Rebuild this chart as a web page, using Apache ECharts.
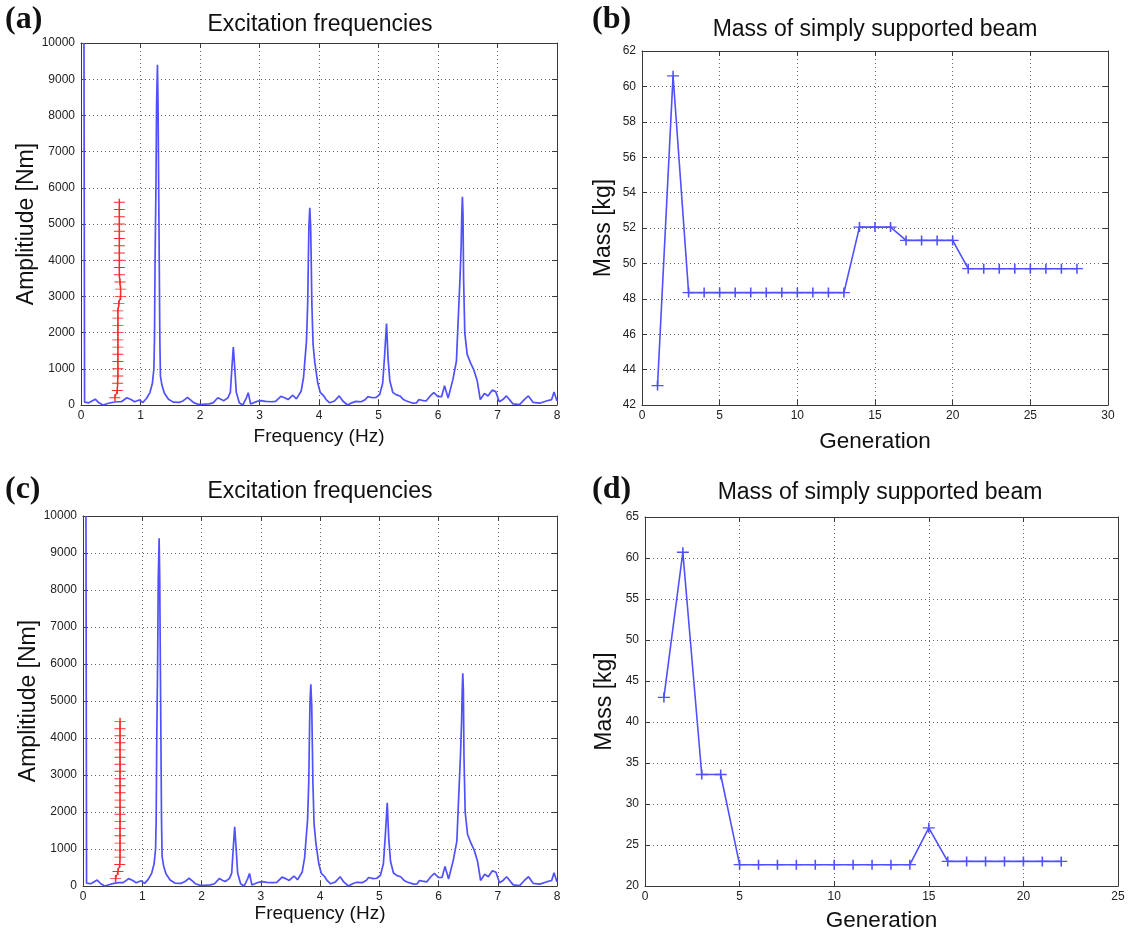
<!DOCTYPE html>
<html><head><meta charset="utf-8">
<script src="https://cdn.jsdelivr.net/npm/echarts@6/dist/echarts.min.js"></script>
<style>html,body{margin:0;padding:0;background:#fff}#c{width:1131px;height:935px}</style>
</head><body><div id="c"></div>
<script>
// ---- Data ----
// Excitation spectrum: [frequency (Hz), amplitude (Nm)]
const spectrum = [
  [0.05,10000],[0.06,80],[0.13,60],[0.24,160],[0.30,60],[0.37,0],[0.45,40],[0.52,70],[0.60,90],
  [0.68,90],[0.77,200],[0.84,150],[0.90,90],[0.98,140],[1.04,70],[1.10,180],[1.16,350],[1.20,600],
  [1.225,1000],[1.235,1800],[1.245,4000],[1.26,6100],[1.27,8300],[1.285,9400],[1.295,8300],
  [1.305,6100],[1.315,4000],[1.325,1800],[1.335,800],[1.36,550],[1.40,330],[1.47,160],[1.55,80],
  [1.65,70],[1.72,120],[1.79,210],[1.85,130],[1.90,60],[1.97,20],[2.05,20],[2.15,30],[2.22,60],
  [2.30,200],[2.36,150],[2.40,120],[2.47,200],[2.51,350],[2.535,1000],[2.56,1600],[2.585,1000],
  [2.61,350],[2.66,60],[2.72,0],[2.78,200],[2.81,340],[2.85,30],[2.90,60],[2.96,100],[3.03,120],
  [3.10,100],[3.20,90],[3.27,100],[3.36,240],[3.42,200],[3.48,150],[3.56,270],[3.62,170],[3.70,380],
  [3.74,760],[3.76,1170],[3.79,1780],[3.81,2800],[3.82,3900],[3.83,4900],[3.845,5450],[3.86,4900],
  [3.87,3900],[3.88,2800],[3.90,1680],[3.93,1170],[3.98,600],[4.02,350],[4.08,250],[4.12,150],
  [4.18,60],[4.26,110],[4.34,250],[4.40,110],[4.48,0],[4.55,60],[4.62,100],[4.71,90],[4.78,150],
  [4.82,230],[4.90,200],[4.96,210],[5.02,290],[5.07,600],[5.10,1300],[5.135,2250],[5.16,1300],
  [5.19,670],[5.24,350],[5.30,280],[5.36,250],[5.42,150],[5.47,110],[5.58,50],[5.64,60],[5.68,150],
  [5.73,130],[5.80,110],[5.87,250],[5.93,340],[6.00,230],[6.06,230],[6.11,530],[6.17,190],[6.25,700],
  [6.31,1215],[6.33,2000],[6.37,3500],[6.39,4450],[6.40,5270],[6.41,5750],[6.42,5270],[6.43,3500],
  [6.45,2000],[6.49,1400],[6.55,1150],[6.60,980],[6.66,660],[6.71,150],[6.78,320],[6.84,250],
  [6.91,410],[6.97,370],[7.03,90],[7.09,150],[7.15,250],[7.26,30],[7.37,10],[7.45,150],[7.52,250],
  [7.60,70],[7.71,50],[7.82,110],[7.91,150],[7.95,360],[8.00,110]
];
// Red marker column, panel (a): [frequency, amplitude]
const redA = [
  [0.645,5600],[0.645,5400],[0.645,5200],[0.645,5000],[0.645,4800],[0.645,4600],[0.645,4400],
  [0.645,4200],[0.645,4000],[0.645,3800],[0.645,3600],[0.655,3400],[0.665,3200],[0.665,3000],
  [0.635,2800],[0.62,2600],[0.62,2400],[0.62,2200],[0.62,2000],[0.62,1800],[0.62,1600],
  [0.62,1400],[0.62,1200],[0.62,1000],[0.62,800],[0.615,600],[0.61,400],[0.57,200]
];
// Red marker column, panel (c)
const redC = [
  [0.625,4450],[0.625,4250],[0.625,4060],[0.625,3870],[0.625,3680],[0.625,3480],[0.625,3290],
  [0.625,3100],[0.625,2900],[0.625,2710],[0.625,2520],[0.625,2320],[0.625,2130],[0.625,1940],
  [0.625,1740],[0.625,1550],[0.625,1360],[0.625,1160],[0.625,970],[0.625,780],[0.62,580],
  [0.59,390],[0.55,200]
];
// Panel (b): mass per generation
const generationsB = [1,2,3,4,5,6,7,8,9,10,11,12,13,14,15,16,17,18,19,20,21,22,23,24,25,26,27,28];
const massB = [43.1,60.6,48.35,48.35,48.35,48.35,48.35,48.35,48.35,48.35,48.35,48.35,48.35,
  52.05,52.05,52.05,51.3,51.3,51.3,51.3,49.7,49.7,49.7,49.7,49.7,49.7,49.7,49.7];
// Panel (d): mass per generation
const generationsD = [1,2,3,4,5,6,7,8,9,10,11,12,13,14,15,16,17,18,19,20,21,22];
const massD = [43,60.7,33.6,33.6,22.6,22.6,22.6,22.6,22.6,22.6,22.6,22.6,22.6,22.6,27.1,
  23,23,23,23,23,23,23];

const titles = ['Excitation frequencies','Mass of simply supported beam','Excitation frequencies','Mass of simply supported beam'];
const panelLabels = ['(a)','(b)','(c)','(d)'];

// ---- Styling ----
const FONT = "'Liberation Sans', Arial, Helvetica, sans-serif";
const BLUE = '#5050ff';
const RED = '#ff2a2a';
const FRAME = '#3a3a3a';
const PLUS = 'path://M4.35,0H5.65V4.35H10V5.65H5.65V10H4.35V5.65H0V4.35H4.35Z';

const grids = [
  {left:81, top:43, width:476, height:362},
  {left:642, top:51, width:466, height:354},
  {left:83, top:516, width:474, height:370},
  {left:645, top:517, width:473, height:369}
];
const axesCfg = [
  {x:[0,8,1], y:[0,10000,1000], xName:'Frequency (Hz)', yName:'Amplitiude [Nm]', xGap:22, yGap:28, xSize:19, ySize:23},
  {x:[0,30,5], y:[42,62,2], xName:'Generation', yName:'Mass [kg]', xGap:25, yGap:27, xSize:22.5, ySize:23},
  {x:[0,8,1], y:[0,10000,1000], xName:'Frequency (Hz)', yName:'Amplitiude [Nm]', xGap:11, yGap:35, xSize:19, ySize:23},
  {x:[0,25,5], y:[20,65,5], xName:'Generation', yName:'Mass [kg]', xGap:23, yGap:29, xSize:22.5, ySize:23}
];

const plain = v => String(v);
const xAxis = [], yAxis = [];
axesCfg.forEach((c, i) => {
  const line = {show:true, onZero:false, lineStyle:{color:FRAME, width:1}};
  const tick = {show:true, inside:true, length:5, lineStyle:{color:FRAME, width:1}};
  const split = {show:true, lineStyle:{color:'#666', width:1, type:[1,3]}};
  const label = {show:true, fontSize:12, color:'#222', fontFamily:FONT, formatter:plain};
  xAxis.push({type:'value', gridIndex:i, position:'bottom', min:c.x[0], max:c.x[1], interval:c.x[2],
    axisLine:line, axisTick:tick, splitLine:split, axisLabel:Object.assign({margin:5}, label),
    name:c.xName, nameLocation:'middle', nameGap:c.xGap,
    nameTextStyle:{fontSize:c.xSize, color:'#111', fontFamily:FONT}});
  xAxis.push({type:'value', gridIndex:i, position:'top', min:c.x[0], max:c.x[1], interval:c.x[2],
    axisLine:line, axisTick:tick, splitLine:{show:false}, axisLabel:{show:false}});
  yAxis.push({type:'value', gridIndex:i, position:'left', min:c.y[0], max:c.y[1], interval:c.y[2],
    axisLine:line, axisTick:tick, splitLine:split, axisLabel:Object.assign({margin:6}, label),
    name:c.yName, nameLocation:'middle', nameGap:c.yGap,
    nameTextStyle:{fontSize:c.ySize, color:'#111', fontFamily:FONT}});
  yAxis.push({type:'value', gridIndex:i, position:'right', min:c.y[0], max:c.y[1], interval:c.y[2],
    axisLine:line, axisTick:tick, splitLine:{show:false}, axisLabel:{show:false}});
});

const titleCenters = [[320,13],[875,18],[320,480],[880,481]];
const labelPos = [[5,4],[592,4],[5,474],[592,474]];
const title = [];
titles.forEach((t, i) => {
  title.push({text:t, left:titleCenters[i][0], top:titleCenters[i][1], textAlign:'center', padding:0,
    textStyle:{fontSize:23, fontWeight:'normal', color:'#111', fontFamily:FONT}});
});
panelLabels.forEach((t, i) => {
  title.push({text:t, left:labelPos[i][0], top:labelPos[i][1], padding:0,
    textStyle:{fontSize:32, fontWeight:'bold', color:'#111', fontFamily:"'Liberation Serif','Times New Roman',serif"}});
});

const spectrumSeries = (i) => ({type:'line', xAxisIndex:2*i, yAxisIndex:2*i, data:spectrum,
  showSymbol:false, symbol:'none', lineStyle:{color:BLUE, width:1.7}, clip:true, animation:false, z:2});
const redSeries = (i, d) => ({type:'line', xAxisIndex:2*i, yAxisIndex:2*i, data:d,
  symbol:PLUS, symbolSize:[11,7], showSymbol:true,
  itemStyle:{color:RED}, lineStyle:{color:RED, width:1.2}, animation:false, z:3});
const massSeries = (i, xs, ys) => ({type:'line', xAxisIndex:2*i, yAxisIndex:2*i,
  data:xs.map((g, k) => [g, ys[k]]), symbol:PLUS, symbolSize:[12,10], showSymbol:true,
  itemStyle:{color:BLUE}, lineStyle:{color:BLUE, width:1.6}, animation:false, z:3});

const chart = echarts.init(document.getElementById('c'), null, {renderer:'canvas'});
chart.setOption({
  backgroundColor:'#fff',
  animation:false,
  title: title,
  grid: grids,
  xAxis: xAxis,
  yAxis: yAxis,
  series: [
    spectrumSeries(0), redSeries(0, redA),
    massSeries(1, generationsB, massB),
    spectrumSeries(2), redSeries(2, redC),
    massSeries(3, generationsD, massD)
  ]
});
</script></body></html>
